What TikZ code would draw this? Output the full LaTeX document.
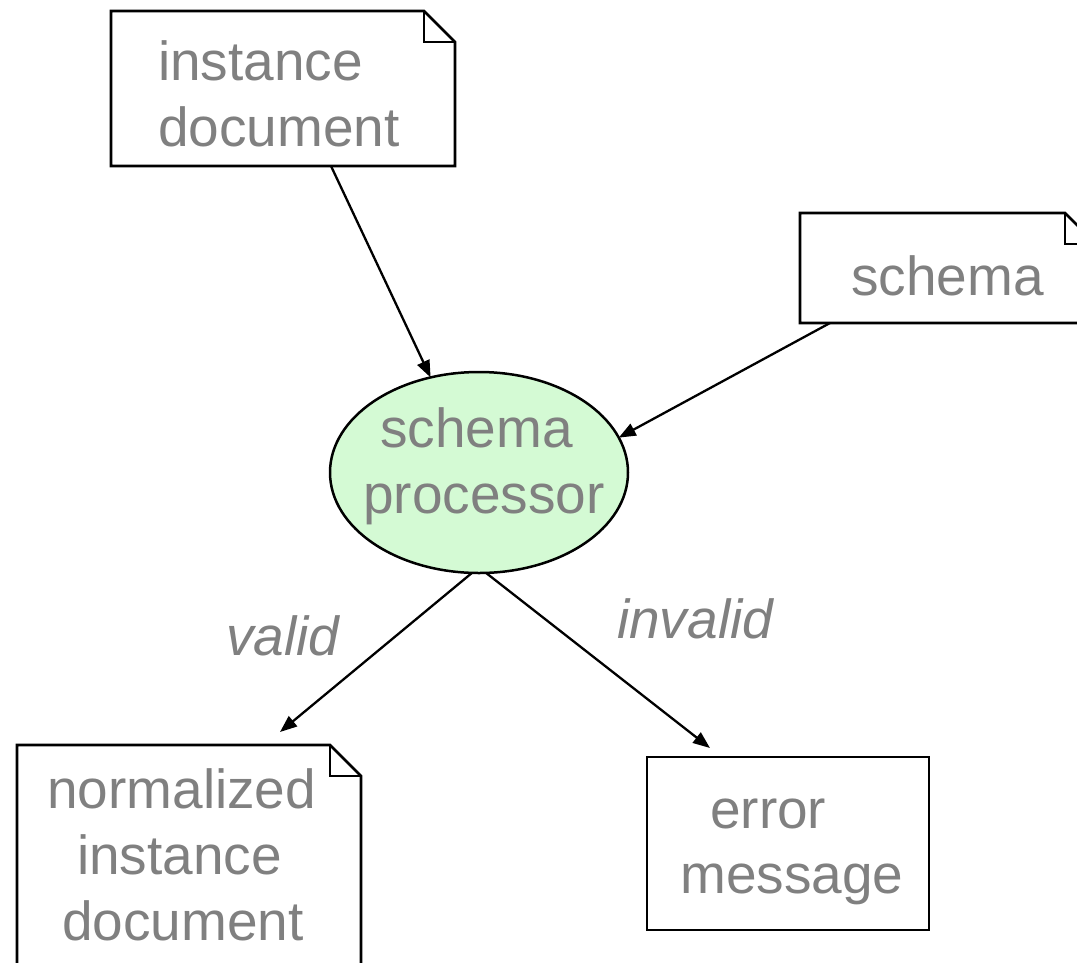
\documentclass[tikz,border=0pt]{standalone}
\usepackage{fontspec}
\setmainfont{Liberation Sans}
\usetikzlibrary{arrows.meta,shapes.geometric}
\definecolor{txtgray}{RGB}{128,128,128}
\definecolor{procgreen}{RGB}{212,250,212}

% document outline with a folded top-right corner around an (empty) node
\newcommand\docoutline[2]{%
  \draw[boxline] (#1.north west) -- ([xshift=-#2]#1.north east)
    -- ([yshift=-#2]#1.north east) -- (#1.south east) -- (#1.south west) -- cycle;
  \draw[boxline] ([xshift=-#2]#1.north east) -- ([xshift=-#2,yshift=-#2]#1.north east)
    -- ([yshift=-#2]#1.north east);
}

\begin{document}
\begin{tikzpicture}[x=1pt,y=-1pt,
  frame/.style={rectangle, draw=none, inner sep=0pt, outer sep=0pt},
  boxline/.style={draw=black, line width=2.8pt, line join=miter},
  lbl/.style={text=txtgray, font=\fontsize{55}{66}\selectfont, inner sep=0pt, anchor=base west},
  ilbl/.style={lbl, font=\fontsize{55}{66}\selectfont\itshape},
  conn/.style={draw=black, line width=2.3pt, -{Triangle[length=17pt,width=13pt]}},
]
\useasboundingbox (0,0) rectangle (1077,962);
\clip (0,0) rectangle (1077,962);

% instance document
\node[frame, minimum width=344pt, minimum height=155pt] (inst) at (283,88.5) {};
\docoutline{inst}{31pt}
\node[lbl] (inst-l1) at (158,80) {instance};
\node[lbl] (inst-l2) at (158,146) {document};

% schema
\node[frame, minimum width=296pt, minimum height=110pt] (schema) at (948,268) {};
\docoutline{schema}{31pt}
\node[lbl] (schema-l) at (851,295) {schema};

% schema processor
\node[ellipse, draw=black, line width=2.5pt, fill=procgreen, inner sep=0pt, outer sep=0pt,
      minimum width=298pt, minimum height=201pt] (proc) at (479,472.5) {};
\node[lbl] (proc-l1) at (380,447) {schema};
\node[lbl] (proc-l2) at (363,513) {processor};

% normalized instance document
\node[frame, minimum width=344pt, minimum height=250pt] (norm) at (189,870) {};
\docoutline{norm}{31pt}
\node[lbl] (norm-l1) at (47,808) {normalized};
\node[lbl] (norm-l2) at (77,874) {instance};
\node[lbl] (norm-l3) at (62,940) {document};

% error message
\node[frame, boxline, minimum width=282pt, minimum height=173pt] (err) at (788,843.5) {};
\node[lbl] (err-l1) at (710,828) {error};
\node[lbl] (err-l2) at (680,893) {message};

% edge labels
\node[ilbl] (valid) at (226,655) {valid};
\node[ilbl] (invalid) at (617,638) {invalid};

% connector end points
\coordinate (inst-out) at (331,166);
\coordinate (schema-out) at (830,323);
\coordinate (norm-in) at (280,732);
\coordinate (err-in) at (710,748);

\draw[conn] (inst-out) -- (proc.117.8);
\draw[conn] (schema-out) -- (proc.14.9);
\draw[conn] (proc.266) -- (norm-in);
\draw[conn] (proc.274.5) -- (err-in);
\end{tikzpicture}
\end{document}
